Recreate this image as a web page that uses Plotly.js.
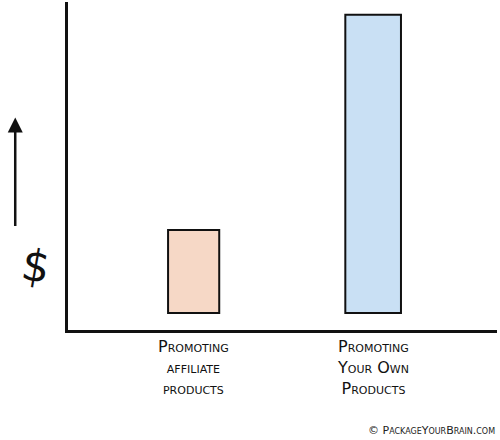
<!DOCTYPE html>
<html>
<head>
<meta charset="utf-8">
<script src="https://cdn.plot.ly/plotly-3.0.1.min.js"></script>
<style>html,body{margin:0;padding:0;background:#fff;}#chart{width:500px;height:440px;}</style>
</head>
<body>
<div id="chart"></div>
<script>
// Data
const categories = ['Promoting affiliate products', 'Promoting Your Own Products'];
const labelLines = [['Promoting', 'affiliate', 'products'], ['Promoting', 'Your Own', 'Products']];
const barBase = [5.2, 5.2];
const barHeights = [25.3, 90.9];
const barColors = ['#f6d8c6', '#c9e0f4'];
const barWidths = [0.285, 0.31];

const trace = {
  type: 'bar',
  x: categories,
  y: barHeights,
  base: barBase,
  width: barWidths,
  marker: {color: barColors, line: {color: '#111', width: 2}},
  hoverinfo: 'none'
};

const annotations = [
  {xref: 'paper', yref: 'paper', x: -0.123, y: 0.648, ax: 0, ay: 110,
   axref: 'pixel', ayref: 'pixel', showarrow: true, arrowhead: 2, arrowsize: 1.2,
   arrowwidth: 2.5, arrowcolor: '#111', text: ''},
  {xref: 'paper', yref: 'paper', x: -0.123, y: 0.105, text: '$', showarrow: false,
   font: {family: 'DejaVu Sans', size: 44, color: '#111'}, textangle: 10},
  {xref: 'paper', yref: 'paper', x: 1.0, y: -0.307, xanchor: 'right', yanchor: 'middle',
   text: '© PackageYourBrain.com', showarrow: false,
   font: {family: 'DejaVu Sans', size: 11, color: '#222', variant: 'small-caps'}}
];
labelLines.forEach((lines, i) => {
  annotations.push({xref: 'x', yref: 'paper', x: categories[i], y: -0.113,
    xanchor: 'center', yanchor: 'middle', align: 'center', text: lines.join('<br>'),
    showarrow: false,
    font: {family: 'DejaVu Sans', size: 16, color: '#111', variant: 'small-caps'}});
});

const layout = {
  width: 500, height: 440,
  margin: {l: 68, r: 3, t: 2, b: 110},
  paper_bgcolor: '#fff', plot_bgcolor: '#fff',
  showlegend: false,
  font: {family: 'DejaVu Sans', color: '#111'},
  xaxis: {
    type: 'category', range: [-0.7, 1.69],
    showgrid: false, zeroline: false, showline: true, linecolor: '#111', linewidth: 3,
    ticks: '', showticklabels: false
  },
  yaxis: {
    range: [0, 100], showgrid: false, zeroline: false, showline: true,
    linecolor: '#111', linewidth: 3, showticklabels: false, ticks: ''
  },
  annotations: annotations
};

Plotly.newPlot('chart', [trace], layout, {displayModeBar: false, staticPlot: true});
</script>
</body>
</html>
